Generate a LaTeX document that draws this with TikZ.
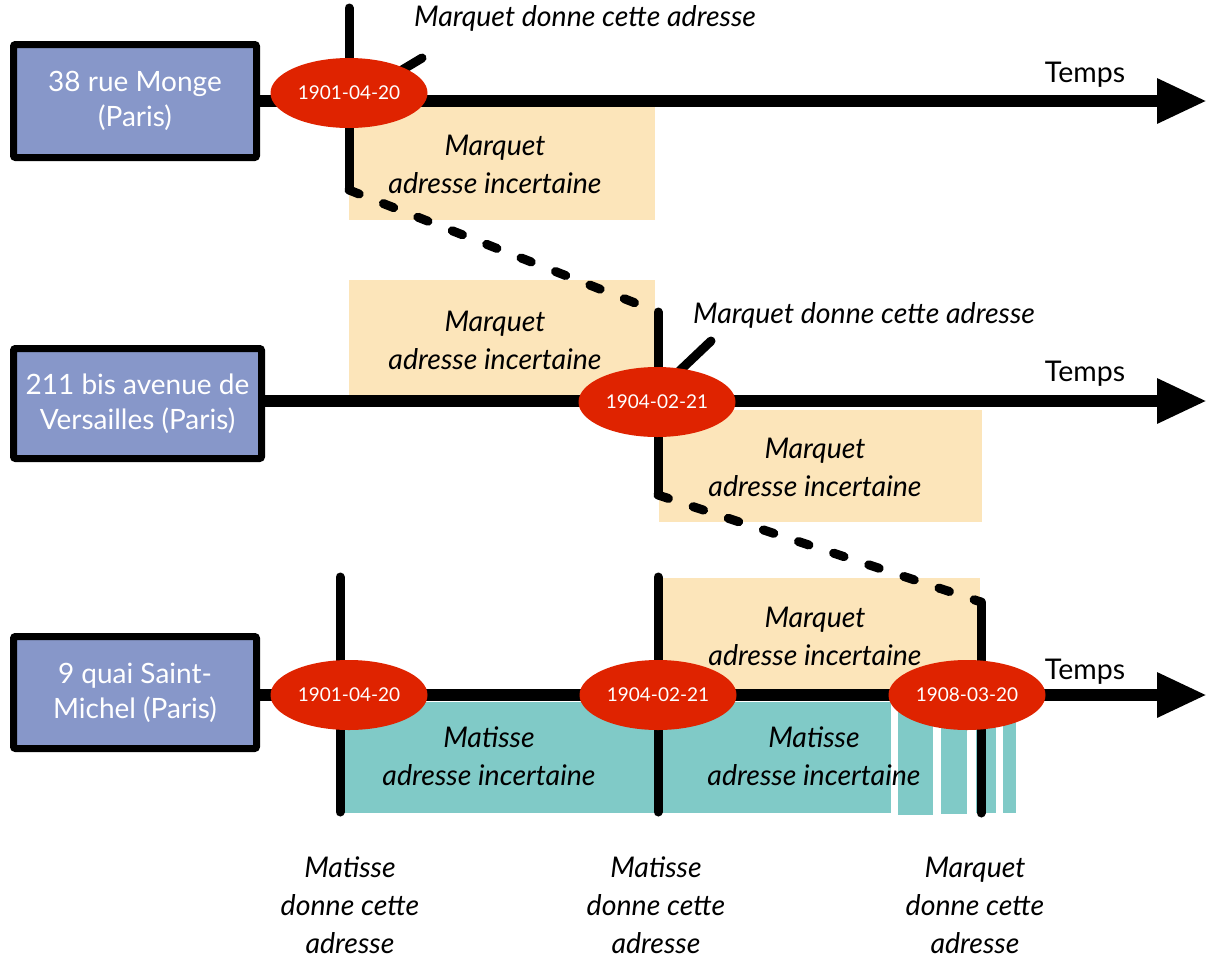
\documentclass[tikz,border=0pt]{standalone}
\usepackage{fontspec}
\setmainfont{Lato}
\usetikzlibrary{shapes.geometric,arrows.meta}
\definecolor{boxblue}{HTML}{8797C9}
\definecolor{datered}{HTML}{DF2300}
\definecolor{uncorange}{HTML}{FCE5BA}
\definecolor{uncteal}{HTML}{80CAC7}
\begin{document}
\begin{tikzpicture}[x=1pt,y=-1pt,
  addr/.style={draw=black, line width=7pt, fill=boxblue, text=white, font=\fontsize{28}{35}\selectfont, align=center, rounded corners=2pt, inner sep=0pt},
  datenode/.style={ellipse, fill=datered, text=white, font=\fontsize{19}{20}\selectfont, minimum width=157pt, minimum height=70pt, inner sep=0pt},
  axis/.style={line width=12pt, -{Triangle[length=50pt,width=42pt]}},
  tickline/.style={line width=9pt, line cap=round},
  dashline/.style={line width=9pt, line cap=round, dash pattern=on 11pt off 26pt},
  lbl/.style={font=\itshape\fontsize{28.5}{38}\selectfont, align=center},
  tlbl/.style={font=\fontsize{28.5}{30}\selectfont}
]
\useasboundingbox (0,0) rectangle (1210,959);
% background bands
\fill[uncorange] (349,107) rectangle (655,220);
\fill[uncorange] (349,280) rectangle (655,395);
\fill[uncorange] (659,410) rectangle (982,522);
\fill[uncorange] (658,578) rectangle (980,690);
\fill[uncteal] (340,702) rectangle (891,813);
\fill[uncteal] (898,702) rectangle (933,815);
\fill[uncteal] (941,702) rectangle (967,814);
\fill[uncteal] (976,702) rectangle (996,813);
\fill[uncteal] (1003,702) rectangle (1016,813);
% address boxes
\node[addr, minimum width=243pt, minimum height=113pt] (b1) at (135,101) {38 rue Monge\\(Paris)};
\node[addr, minimum width=248pt, minimum height=110pt] (b2) at (137.5,403.5) {211 bis avenue de\\Versailles (Paris)};
\node[addr, minimum width=243pt, minimum height=112pt] (b3) at (135,692.5) {9 quai Saint-\\Michel (Paris)};
% time axes
\coordinate (t1) at (1207,101);
\coordinate (t2) at (1207,401);
\coordinate (t3) at (1207,695);
\draw[axis] (b1.east |- t1) -- (t1);
\draw[axis] (b2.east |- t2) -- (t2);
\draw[axis] (b3.east |- t3) -- (t3);
% ticks and dashed links
\coordinate (k1a) at (349,8);
\coordinate (k1b) at (349,190);
\coordinate (k2a) at (658,312);
\coordinate (k2b) at (658,495);
\coordinate (k3a) at (981,602);
\coordinate (k3b) at (981,813);
\draw[tickline] (k1a) -- (k1b);
\draw[dashline] (k1b) -- (k2a);
\draw[tickline] (k2a) -- (k2b);
\draw[dashline] (k2b) -- (k3a);
\draw[tickline] (k3a) -- (k3b);
\coordinate (m1a) at (340,577);
\coordinate (m1b) at (340,812);
\coordinate (m2a) at (658,577);
\coordinate (m2b) at (658,812);
\draw[tickline] (m1a) -- (m1b);
\draw[tickline] (m2a) -- (m2b);
% pointer strokes
\coordinate (s1a) at (392,76);
\coordinate (s1b) at (422,58);
\coordinate (s2a) at (672,378);
\coordinate (s2b) at (711,341);
\draw[tickline] (s1a) -- (s1b);
\draw[tickline] (s2a) -- (s2b);
% dates
\node[datenode] (e11) at (349,93) {1901-04-20};
\node[datenode] (e21) at (657,402) {1904-02-21};
\node[datenode] (e31) at (349,695) {1901-04-20};
\node[datenode] (e32) at (658,695) {1904-02-21};
\node[datenode] (e33) at (967,695) {1908-03-20};
% labels
\node[lbl] (n1) at (585,18) {Marquet donne cette adresse};
\node[lbl] (n2) at (864,315) {Marquet donne cette adresse};
\node[lbl] (u1) at (495,164) {Marquet\\adresse incertaine};
\node[lbl] (u2) at (495,340) {Marquet\\adresse incertaine};
\node[lbl] (u3) at (815,467) {Marquet\\adresse incertaine};
\node[lbl] (u4) at (815,636) {Marquet\\adresse incertaine};
\node[lbl] (v1) at (489,756) {Matisse\\adresse incertaine};
\node[lbl] (v2) at (814,756) {Matisse\\adresse incertaine};
\node[tlbl] (tp1) at (1085,75) {Temps};
\node[tlbl] (tp2) at (1085,374) {Temps};
\node[tlbl] (tp3) at (1085,672) {Temps};
\node[lbl] (g1) at (350,905) {Matisse\\donne cette\\adresse};
\node[lbl] (g2) at (656,905) {Matisse\\donne cette\\adresse};
\node[lbl] (g3) at (975,905) {Marquet\\donne cette\\adresse};
\end{tikzpicture}
\end{document}
